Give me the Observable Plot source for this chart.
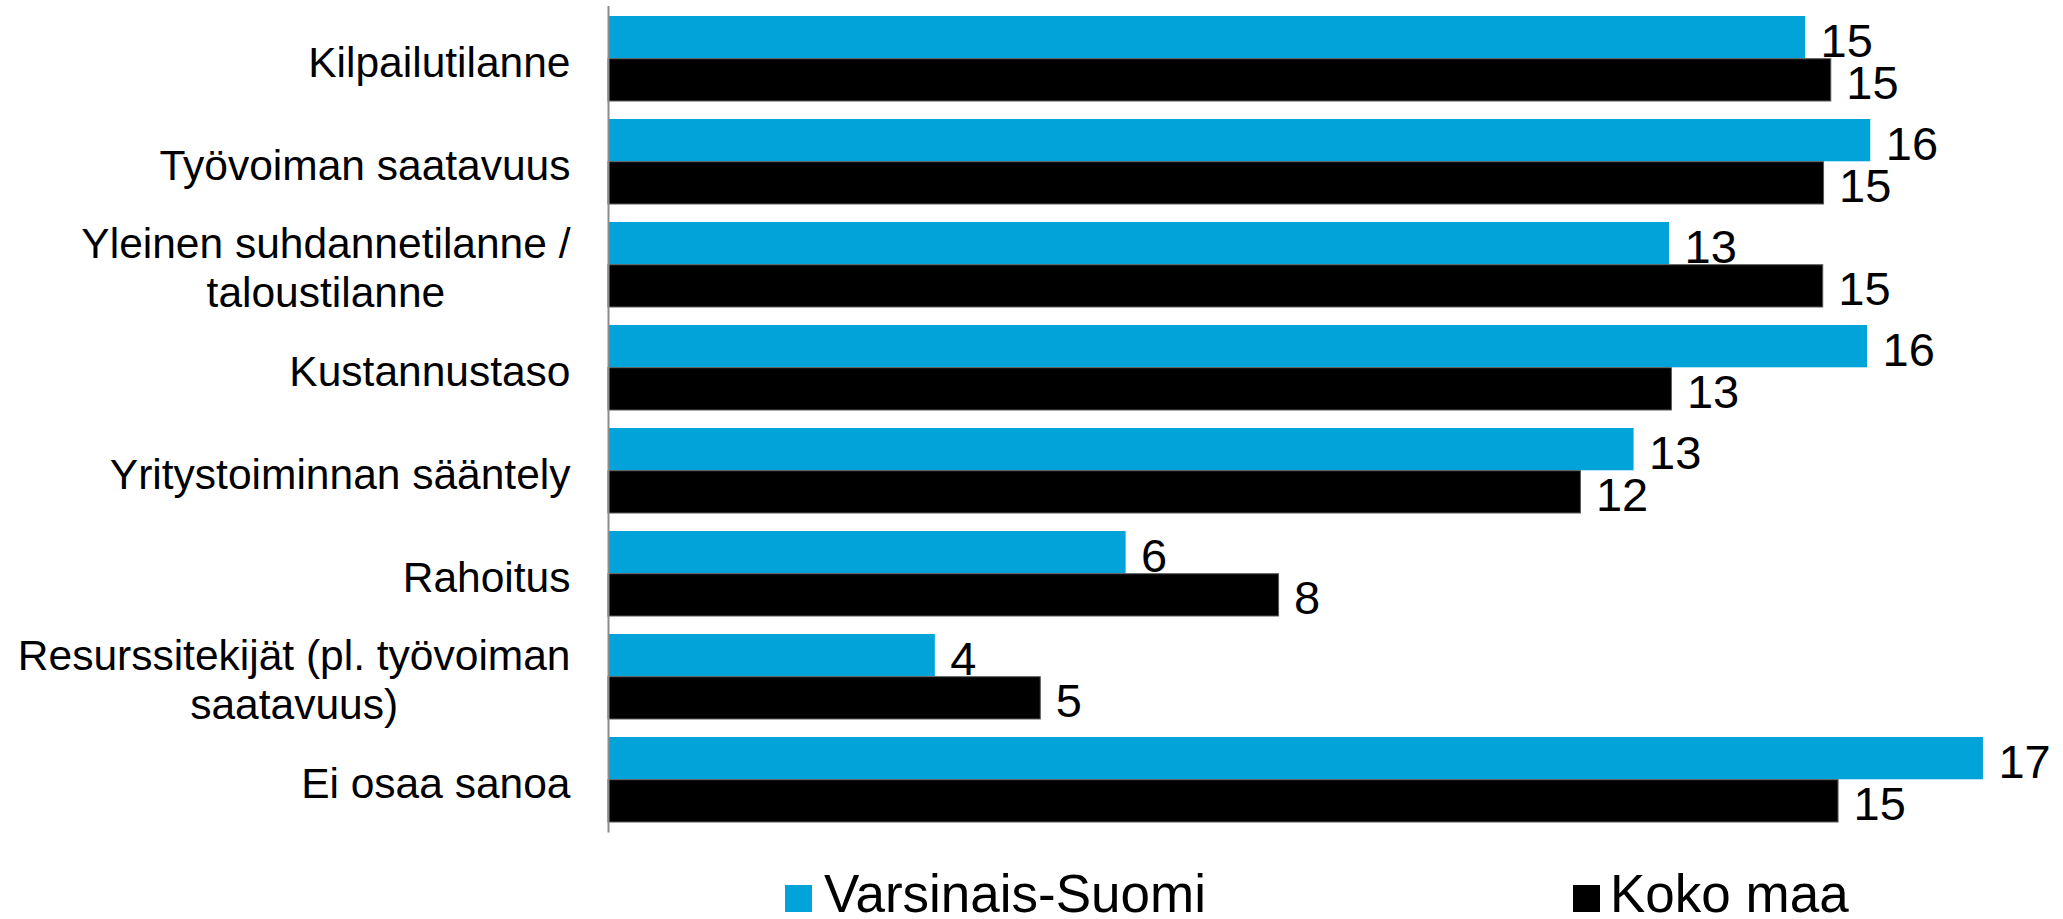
<!DOCTYPE html>
<html>
<head>
<meta charset="utf-8">
<script src="https://cdn.jsdelivr.net/npm/d3@7"></script>
<script src="https://cdn.jsdelivr.net/npm/@observablehq/plot@0.6"></script>
<style>
  html, body { margin: 0; padding: 0; background: #fff; }
  #chart { width: 2063px; }
  #legend { position: relative; width: 2063px; height: 69px; font-family: 'Liberation Sans', Arial, sans-serif; }
  .sw { position: absolute; width: 27px; height: 27px; top: 35px; }
  .lt { position: absolute; font-size: 53px; line-height: 53px; top: 17px; color: #000; white-space: nowrap; }
</style>
</head>
<body>
<div id="chart"></div>
<div id="legend"></div>
<script>
const categories = [
  "Kilpailutilanne",
  "Työvoiman saatavuus",
  "Yleinen suhdannetilanne /\ntaloustilanne",
  "Kustannustaso",
  "Yritystoiminnan sääntely",
  "Rahoitus",
  "Resurssitekijät (pl. työvoiman\nsaatavuus)",
  "Ei osaa sanoa"
];
const vsValues = [14.87, 15.68, 13.18, 15.64, 12.74, 6.43, 4.06, 17.08];
const kmValues = [15.19, 15.10, 15.09, 13.21, 12.08, 8.33, 5.37, 15.28];
const seriesNames = ["Varsinais-Suomi", "Koko maa"];
const seriesColors = ["#02a3d9", "#000000"];

const W = 2063, H = 850, mT = 6, mB = 17.4, mL = 608, mR = 6;
const padIn = 0.1757, padOut = 0.077;
const step = (H - mT - mB) / (categories.length - padIn + 2 * padOut);
const bw = step * (1 - padIn);
const font = "'Liberation Sans', Arial, sans-serif";
const labelSize = 42.5, valueSize = 47;
const fmt = d3.format(".0f");

const ctx = document.createElement("canvas").getContext("2d");
ctx.font = `${labelSize}px 'Liberation Sans'`;
const idx = d3.range(categories.length);

const labelMarks = categories.map(c => {
  const w = d3.max(c.split("\n"), s => ctx.measureText(s).width);
  return Plot.text([c], {
    y: d => d, frameAnchor: "left", textAnchor: "middle",
    dx: -(38 + w / 2), dy: 2, lineHeight: 1.15,
    fontSize: labelSize, fontFamily: font, fill: "#000"
  });
});

const chart = Plot.plot({
  width: W, height: H,
  marginTop: mT, marginBottom: mB, marginLeft: mL, marginRight: mR,
  style: { fontFamily: font, background: "#fff" },
  x: { domain: [0, 18], axis: null },
  y: { domain: categories, paddingInner: padIn, paddingOuter: padOut, axis: null },
  marks: [
    Plot.barX(idx, { x: i => vsValues[i], y: i => categories[i], fill: seriesColors[0], insetBottom: bw / 2 }),
    Plot.barX(idx, { x: i => kmValues[i], y: i => categories[i], fill: seriesColors[1], stroke: "#5a5a5a", strokeWidth: 1, insetTop: bw / 2 }),
    Plot.ruleX([0], { stroke: "#8c8c8c", strokeWidth: 2 }),
    Plot.text(idx, { x: i => vsValues[i], y: i => categories[i], text: i => fmt(vsValues[i]), textAnchor: "start", dx: 15, dy: -bw / 4 + 4, fontSize: valueSize, fontFamily: font, fill: "#000" }),
    Plot.text(idx, { x: i => kmValues[i], y: i => categories[i], text: i => fmt(kmValues[i]), textAnchor: "start", dx: 15, dy: bw / 4 + 4, fontSize: valueSize, fontFamily: font, fill: "#000" }),
    ...labelMarks
  ]
});
document.getElementById("chart").appendChild(chart);

const legend = document.getElementById("legend");
const legendPos = [[785, 824], [1573, 1610]];
seriesNames.forEach((name, i) => {
  const sw = document.createElement("div");
  sw.className = "sw";
  sw.style.left = legendPos[i][0] + "px";
  sw.style.background = seriesColors[i];
  legend.appendChild(sw);
  const t = document.createElement("div");
  t.className = "lt";
  t.style.left = legendPos[i][1] + "px";
  t.textContent = name;
  legend.appendChild(t);
});
</script>
</body>
</html>
